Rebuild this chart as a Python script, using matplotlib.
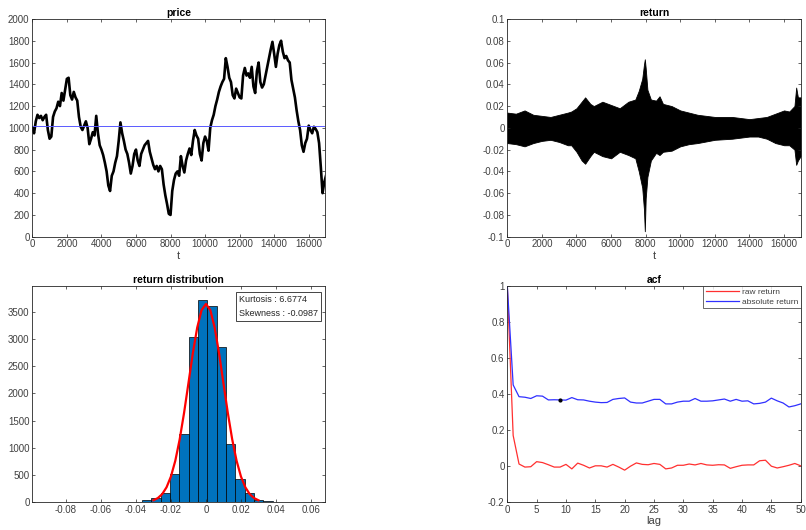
import matplotlib
matplotlib.use('Agg')

import numpy as np
import matplotlib.pyplot as plt
from matplotlib.ticker import FormatStrFormatter

plt.rcParams['font.family'] = ['Liberation Sans', 'DejaVu Sans']
plt.rcParams['font.size'] = 7

price_step = 100
price = [1000, 950, 1060, 1120, 1090, 1110, 1070, 1100, 1120, 980,
         900, 920, 1100, 1150, 1180, 1240, 1200, 1320, 1250, 1350,
         1450, 1460, 1300, 1260, 1330, 1280, 1250, 1100, 1010, 980,
         1020, 1060, 1000, 850, 900, 960, 930, 1110, 950, 840,
         800, 750, 680, 600, 470, 420, 560, 600, 680, 740,
         880, 1050, 950, 880, 800, 760, 680, 580, 650, 760,
         800, 700, 650, 760, 800, 840, 860, 880, 780, 720,
         660, 620, 650, 600, 650, 620, 480, 380, 300, 210,
         200, 420, 520, 580, 600, 560, 740, 650, 590, 700,
         760, 810, 750, 880, 980, 930, 900, 760, 700, 860,
         920, 880, 790, 1000, 1070, 1120, 1200, 1260, 1330, 1380,
         1420, 1450, 1640, 1560, 1460, 1420, 1300, 1270, 1360, 1320,
         1280, 1270, 1480, 1550, 1480, 1500, 1460, 1560, 1380, 1320,
         1520, 1600, 1420, 1370, 1400, 1480, 1560, 1640, 1720, 1790,
         1680, 1560, 1680, 1760, 1800, 1700, 1640, 1660, 1620, 1600,
         1440, 1360, 1280, 1160, 1060, 980, 840, 780, 860, 900,
         1020, 980, 950, 1010, 990, 960, 860, 640, 400, 500,
         560]
price_mean = 1015
n_obs = 16960

# return series envelope (upper / lower edge of the black band)
env_t = [0, 500, 1000, 1500, 2000, 2500, 3000, 3500, 3700, 4000,
         4300, 4500, 4800, 5000, 5500, 6000, 6500, 7000, 7400, 7600,
         7800, 7900, 7950, 8000, 8100, 8300, 8600, 8800, 9000, 9500,
         10000, 10500, 11000, 12000, 13000, 14000, 14500, 15000, 15500, 16000,
         16300, 16600, 16700, 16800, 16960]
ret_upper = [0.014, 0.013, 0.016, 0.012, 0.011, 0.010, 0.012, 0.014, 0.015, 0.018,
             0.024, 0.028, 0.022, 0.020, 0.024, 0.021, 0.018, 0.024, 0.026, 0.034,
             0.045, 0.058, 0.063, 0.055, 0.035, 0.026, 0.025, 0.029, 0.022, 0.020,
             0.016, 0.014, 0.012, 0.010, 0.010, 0.008, 0.009, 0.010, 0.013, 0.016,
             0.015, 0.020, 0.037, 0.028, 0.028]
ret_lower = [-0.014, -0.015, -0.017, -0.014, -0.012, -0.011, -0.013, -0.016, -0.016, -0.022,
             -0.030, -0.033, -0.026, -0.022, -0.026, -0.028, -0.022, -0.025, -0.028, -0.040,
             -0.055, -0.075, -0.095, -0.065, -0.045, -0.030, -0.023, -0.025, -0.022, -0.021,
             -0.017, -0.015, -0.014, -0.011, -0.010, -0.008, -0.008, -0.010, -0.014, -0.016,
             -0.016, -0.020, -0.034, -0.030, -0.026]

# return histogram
bin_start = -0.0952
bin_width = 0.00533
hist_counts = [1, 0, 0, 0, 0, 0, 0, 0, 3, 5,
               10, 37, 74, 172, 521, 1257, 3036, 3710, 3613, 2853,
               1080, 423, 166, 43, 25, 12, 8, 2, 1, 0, 1]
fit_x = [-0.030, -0.0275, -0.025, -0.0225, -0.020, -0.0175, -0.015, -0.0125, -0.010,
         -0.0075, -0.005, -0.0025, 0.0, 0.0025, 0.005, 0.0075, 0.010, 0.0125,
         0.015, 0.0175, 0.020, 0.0225, 0.025, 0.0275, 0.030]
fit_y = [37, 77, 150, 276, 474, 764, 1157, 1642, 2188,
         2736, 3208, 3531, 3645, 3531, 3208, 2736, 2188, 1642,
         1157, 764, 474, 276, 150, 77, 37]
kurt = 6.6774
skew = -0.0987

# autocorrelation, lags 0..50
acf_raw = [1.0, 0.17, 0.012, -0.005, -0.003, 0.025, 0.02, 0.008, -0.005, -0.005,
           0.01, -0.015, 0.017, 0.005, -0.01, 0.002, 0.002, -0.005, 0.01, -0.005,
           -0.022, 0.0, 0.018, 0.01, 0.008, 0.015, 0.01, -0.015, -0.01, 0.005,
           0.005, 0.012, 0.007, 0.015, 0.007, 0.005, 0.008, 0.007, -0.012, -0.003,
           0.005, 0.007, 0.007, 0.03, 0.033, 0.0, -0.01, -0.003, 0.005, 0.015,
           0.002]
acf_abs = [1.0, 0.45, 0.385, 0.382, 0.375, 0.39, 0.388, 0.367, 0.368, 0.367,
           0.366, 0.38, 0.368, 0.367, 0.36, 0.355, 0.352, 0.353, 0.37, 0.375,
           0.378, 0.355, 0.35, 0.35, 0.36, 0.37, 0.37, 0.345, 0.345, 0.355,
           0.36, 0.36, 0.375, 0.36, 0.36, 0.362, 0.367, 0.372, 0.36, 0.37,
           0.36, 0.362, 0.345, 0.348, 0.355, 0.377, 0.362, 0.35, 0.328, 0.335,
           0.345]
marked_lag = 9

axis_gray = '#262626'
label_gray = '#404040'


def matlab_axes(ax):
    for s in ax.spines.values():
        s.set_color(axis_gray)
        s.set_linewidth(0.6)
    ax.tick_params(direction='in', top=True, right=True, length=2.5,
                   width=0.5, colors=axis_gray, labelcolor=label_gray,
                   labelsize=7, pad=2)


fig = plt.figure(figsize=(8.06, 5.30), dpi=100)
ax1 = fig.add_axes([0.0401, 0.5534, 0.3635, 0.4108])
ax2 = fig.add_axes([0.6294, 0.5534, 0.3640, 0.4108])
ax3 = fig.add_axes([0.0401, 0.0523, 0.3635, 0.4087])
ax4 = fig.add_axes([0.6294, 0.0523, 0.3640, 0.4087])

# price
t_price = np.arange(len(price)) * price_step
ax1.plot(t_price, price, color='k', lw=1.9)
ax1.axhline(price_mean, color='#5a5aff', lw=0.7)
ax1.set_xlim(0, n_obs)
ax1.set_ylim(0, 2000)
ax1.set_xticks(np.arange(0, 17000, 2000))
ax1.set_yticks(np.arange(0, 2001, 200))
ax1.set_title('price', fontsize=7.5, fontweight='bold', pad=2)
ax1.set_xlabel('t', fontsize=8, labelpad=1, color=label_gray)
matlab_axes(ax1)

# return
ax2.fill_between(env_t, ret_lower, ret_upper, color='k', lw=0.6, edgecolor='k')
ax2.set_xlim(0, n_obs)
ax2.set_ylim(-0.1, 0.1)
ax2.set_xticks(np.arange(0, 17000, 2000))
ax2.set_yticks([-0.1, -0.08, -0.06, -0.04, -0.02, 0, 0.02, 0.04, 0.06, 0.08, 0.1])
ax2.yaxis.set_major_formatter(FormatStrFormatter('%g'))
ax2.set_title('return', fontsize=7.5, fontweight='bold', pad=2)
ax2.set_xlabel('t', fontsize=8, labelpad=1, color=label_gray)
matlab_axes(ax2)

# return distribution
edges = bin_start + np.arange(len(hist_counts)) * bin_width
ax3.bar(edges, hist_counts, width=bin_width, align='edge', color='#0072BD',
        edgecolor='black', linewidth=0.5)
ax3.plot(fit_x, fit_y, color='red', lw=1.6)
ax3.set_xlim(-0.0992, 0.0682)
ax3.set_ylim(0, 3980)
ax3.set_xticks([-0.08, -0.06, -0.04, -0.02, 0, 0.02, 0.04, 0.06])
ax3.set_yticks(np.arange(0, 3501, 500))
ax3.xaxis.set_major_formatter(FormatStrFormatter('%g'))
ax3.set_title('return distribution', fontsize=7.5, fontweight='bold', pad=2)
ax3.text(0.705, 0.955, 'Kurtosis : %.4f\nSkewness : %.4f' % (kurt, skew),
         transform=ax3.transAxes, ha='left', va='top', fontsize=6.5,
         linespacing=1.6, color=axis_gray,
         bbox=dict(boxstyle='square,pad=0.35', fc='white', ec=axis_gray, lw=0.6))
matlab_axes(ax3)

# acf
lags = np.arange(len(acf_raw))
ax4.plot(lags, acf_raw, color='#ff3030', lw=0.9, label='raw return')
ax4.plot(lags, acf_abs, color='#3030ff', lw=0.9, label='absolute return')
ax4.plot(marked_lag, acf_abs[marked_lag], 'k.', ms=4)
ax4.set_xlim(0, 50)
ax4.set_ylim(-0.2, 1)
ax4.set_xticks(np.arange(0, 51, 5))
ax4.set_yticks([-0.2, 0, 0.2, 0.4, 0.6, 0.8, 1])
ax4.yaxis.set_major_formatter(FormatStrFormatter('%g'))
ax4.set_title('acf', fontsize=7.5, fontweight='bold', pad=2)
ax4.set_xlabel('lag', fontsize=8, labelpad=1, color=label_gray)
leg = ax4.legend(loc='upper right', fontsize=6, frameon=True, fancybox=False,
                 borderaxespad=0.0, handlelength=4.0, borderpad=0.3,
                 labelspacing=0.2, handletextpad=0.3)
leg.get_frame().set_edgecolor(axis_gray)
leg.get_frame().set_linewidth(0.6)
for txt in leg.get_texts():
    txt.set_color(label_gray)
matlab_axes(ax4)

fig.savefig('out.png', dpi=100)
plt.close(fig)
